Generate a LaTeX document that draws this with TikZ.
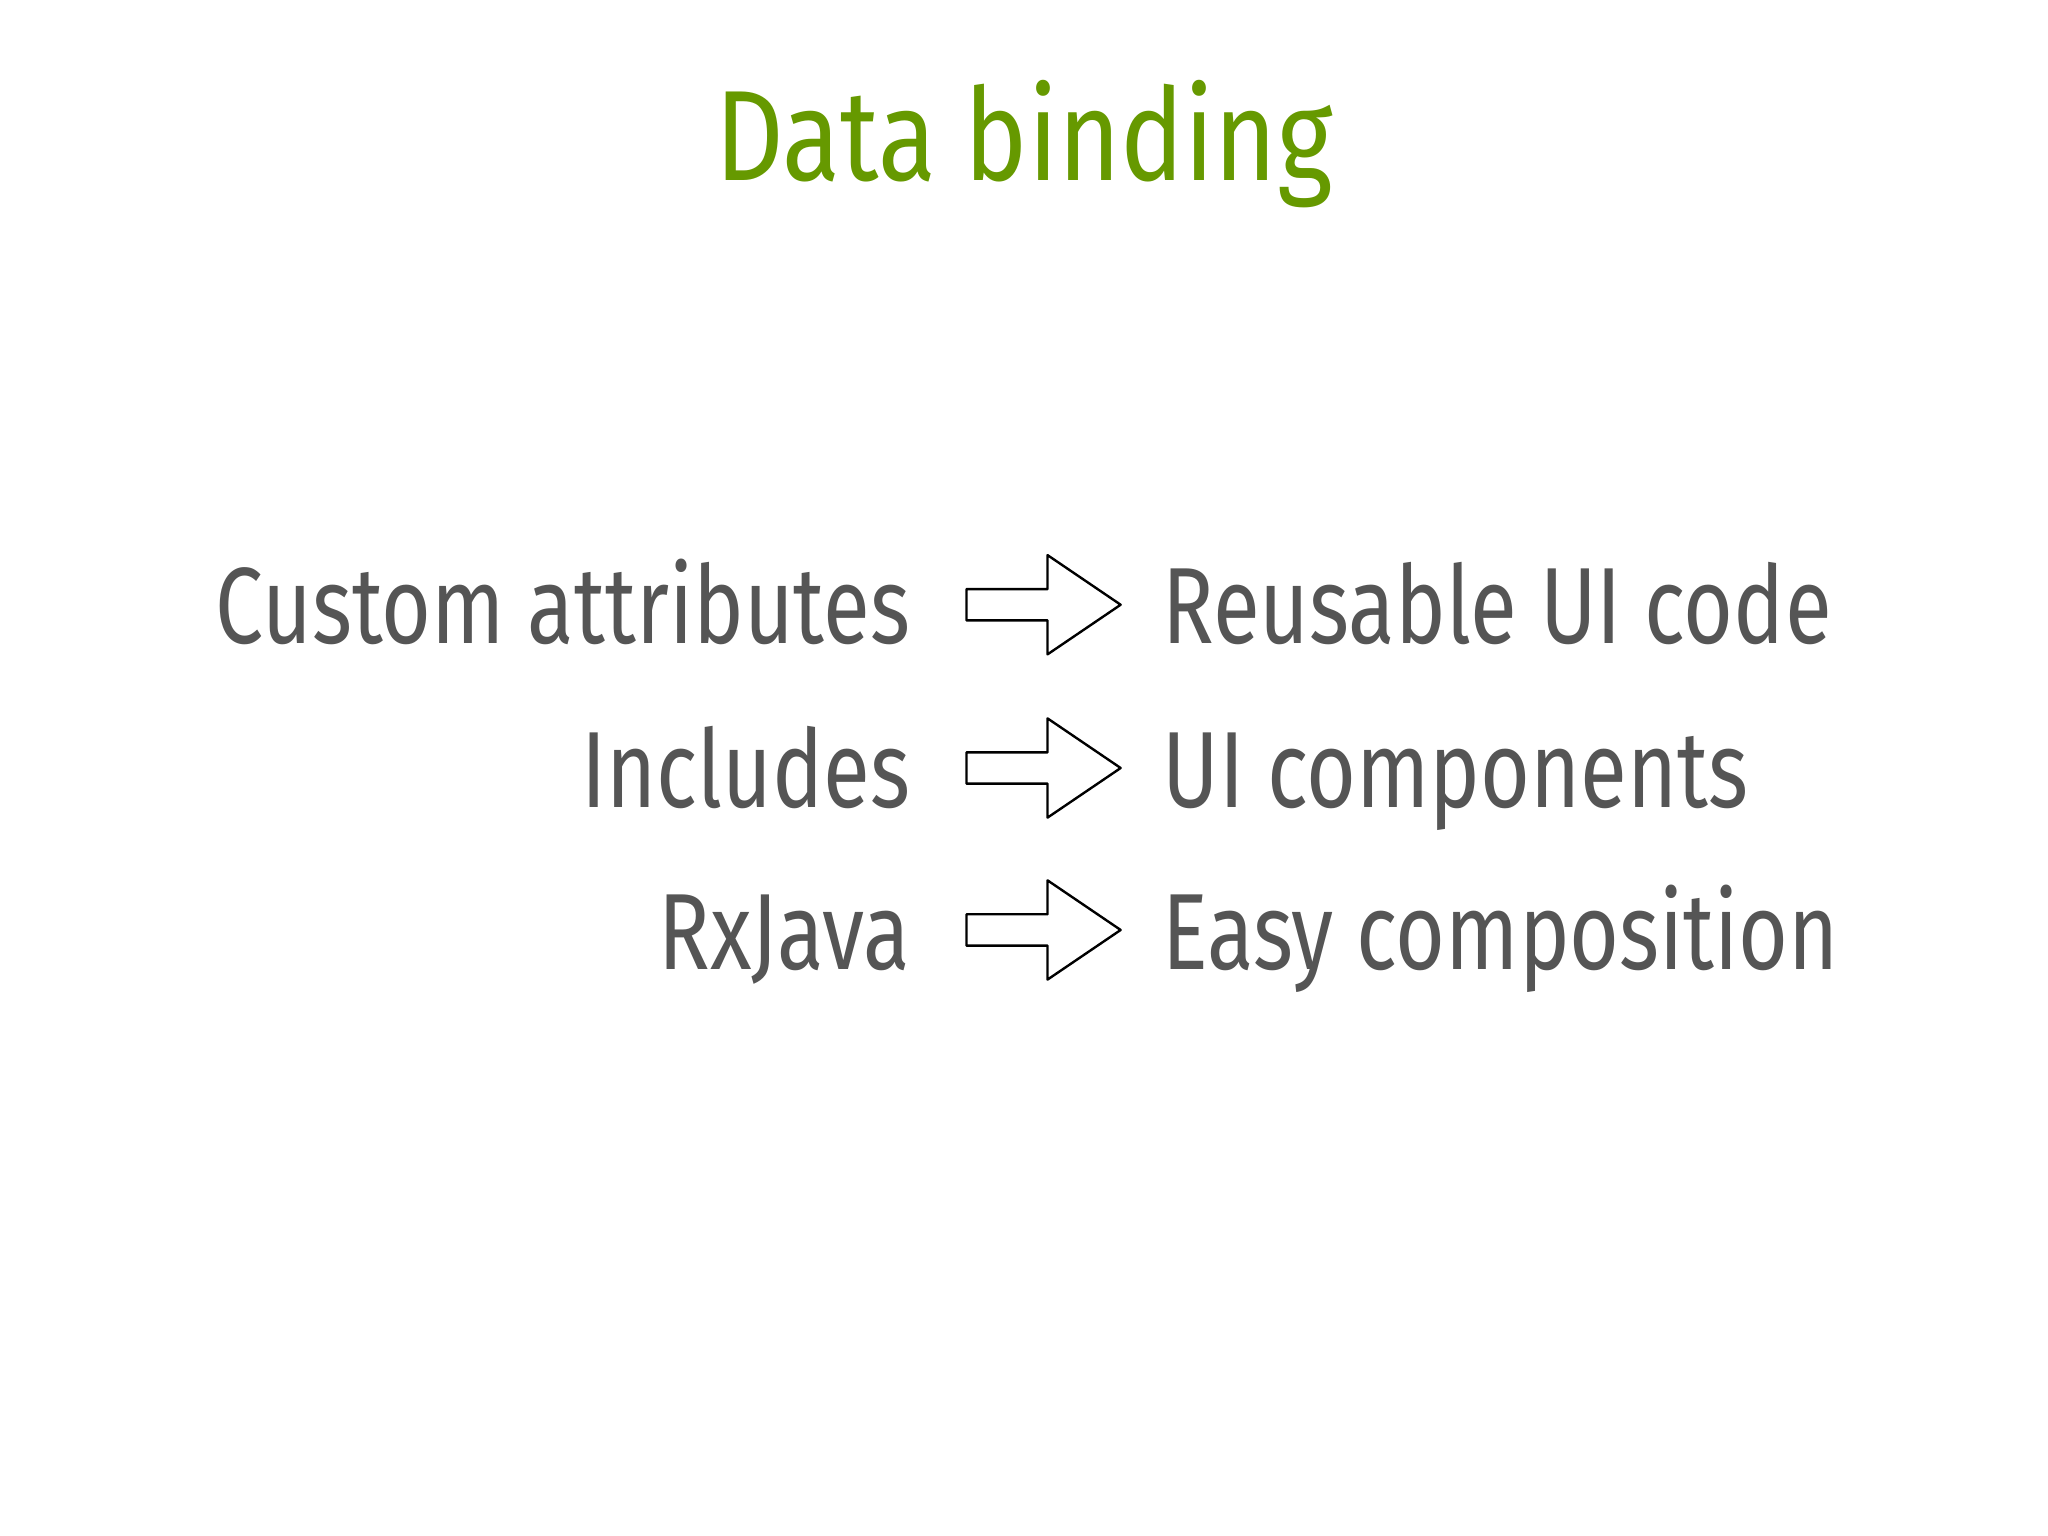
\documentclass[tikz,border=0pt]{standalone}
\usepackage{fontspec}
\setmainfont{Fira Sans}[FakeStretch=0.79]
\newfontfamily\titlefont{Fira Sans}[FakeStretch=0.83]
\definecolor{titlegreen}{HTML}{669900}
\definecolor{bodygray}{HTML}{555555}
\begin{document}
\begin{tikzpicture}[x=0.05cm,y=-0.05cm,
  lefttxt/.style={anchor=base east,text=bodygray,font=\fontsize{118}{120}\selectfont,inner sep=0},
  righttxt/.style={anchor=base west,text=bodygray,font=\fontsize{118}{120}\selectfont,inner sep=0},
  fatarrow/.style={draw=black,line width=2.6pt,line join=round,fill=white}]
\useasboundingbox (0,0) rectangle (1568,1176);
\node[text=titlegreen,font=\titlefont\fontsize{140}{150}\selectfont,anchor=base,inner sep=0] (title) at (784,138) {Data binding};
\foreach \y/\l/\r/\n in {463/Custom attributes/Reusable UI code/a,588/Includes/UI components/b,712/RxJava/Easy composition/c}{
  \node[lefttxt] (l\n) at (697,\y+30) {\l};
  \node[righttxt] (r\n) at (890,\y+30) {\r};
  \draw[fatarrow] (740,\y-12) -- (802,\y-12) -- (802,\y-38) -- (858,\y) -- (802,\y+38) -- (802,\y+12) -- (740,\y+12) -- cycle;
}
\end{tikzpicture}
\end{document}
